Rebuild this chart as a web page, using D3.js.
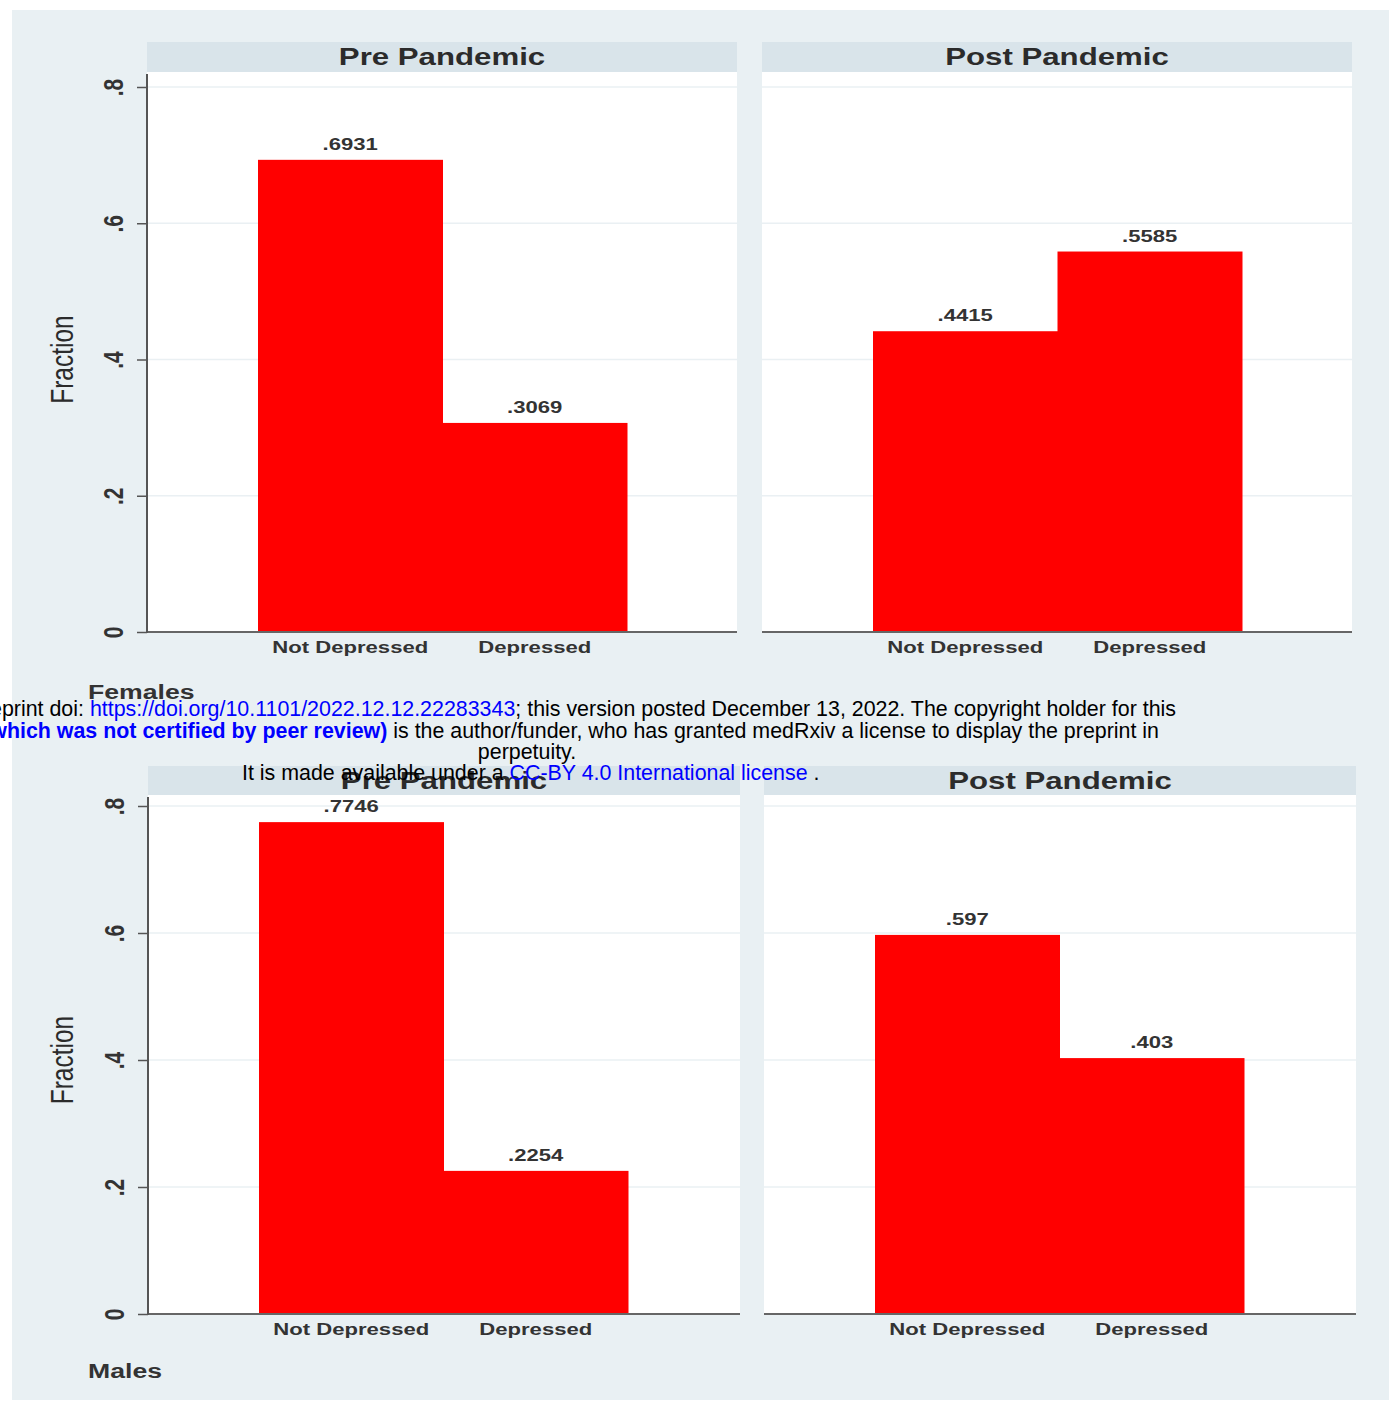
<!DOCTYPE html>
<html>
<head>
<meta charset="utf-8">
<script src="https://cdn.jsdelivr.net/npm/d3@7"></script>
<style>
  html, body { margin: 0; padding: 0; background: #ffffff; }
  svg { display: block; }
</style>
</head>
<body>
<svg id="chart" width="1389" height="1402"></svg>
<script>
// ---------- data ----------
const groups = ["Females", "Males"];
const periods = ["Pre Pandemic", "Post Pandemic"];
const categories = ["Not Depressed", "Depressed"];
const femalesPre = [0.6931, 0.3069];
const femalesPost = [0.4415, 0.5585];
const malesPre = [0.7746, 0.2254];
const malesPost = [0.597, 0.403];
const yTickValues = [0, 0.2, 0.4, 0.6, 0.8];
const yTickLabels = ["0", ".2", ".4", ".6", ".8"];
const yAxisTitle = "Fraction";
const watermark1a = "medRxiv preprint doi: ";
const watermark1b = "https://doi.org/10.1101/2022.12.12.22283343";
const watermark1c = "; this version posted December 13, 2022. The copyright holder for this";
const watermark2a = "preprint ";
const watermark2b = "(which was not certified by peer review)";
const watermark2c = " is the author/funder, who has granted medRxiv a license to display the preprint in";
const watermark3 = "perpetuity.";
const watermark4a = "It is made available under a ";
const watermark4b = "CC-BY 4.0 International license";
const watermark4c = " .";

const groupValues = { "Females": [femalesPre, femalesPost], "Males": [malesPre, malesPost] };

// ---------- layout ----------
const SX = 1.3; // horizontal stretch of the source image text
const FONT = "'Liberation Sans', Arial, Helvetica, sans-serif";
const figures = [
  { group: "Females", headerTop: 42, plotTop: 72, zeroY: 632, topY: 87,
    panels: [[147, 737], [762, 1352]], axisTop: 74, noteY: 699 },
  { group: "Males", headerTop: 766, plotTop: 795, zeroY: 1314, topY: 806,
    panels: [[148, 740], [764, 1356]], axisTop: 797, noteY: 1378 }
];

const svg = d3.select("#chart");
svg.append("rect").attr("x", 12).attr("y", 10).attr("width", 1377).attr("height", 1390)
  .attr("fill", "#e9f0f3");

const fmt = v => String(v).replace(/^0(?=\.)/, "");

figures.forEach(fig => {
  const g = svg.append("g");
  const y = d3.scaleLinear().domain([0, 0.8]).range([fig.zeroY, fig.topY]);
  const vals = groupValues[fig.group];

  fig.panels.forEach((px, pi) => {
    const [x0, x1] = px;
    const pg = g.append("g");
    // header strip
    pg.append("rect").attr("x", x0).attr("y", fig.headerTop)
      .attr("width", x1 - x0).attr("height", fig.plotTop - fig.headerTop).attr("fill", "#d9e4ea");
    pg.append("text")
      .attr("transform", `translate(${(x0 + x1) / 2},${(fig.headerTop + fig.plotTop) / 2 + 8}) scale(${SX},1)`)
      .attr("text-anchor", "middle").attr("font-family", FONT).attr("font-weight", "bold")
      .attr("font-size", 24).attr("fill", "#2b2b2b").text(periods[pi]);
    // plot area
    pg.append("rect").attr("x", x0).attr("y", fig.plotTop)
      .attr("width", x1 - x0).attr("height", fig.zeroY - fig.plotTop).attr("fill", "#ffffff");
    // gridlines
    pg.selectAll("line.grid").data(yTickValues.filter(d => d > 0)).join("line")
      .attr("class", "grid").attr("x1", x0).attr("x2", x1)
      .attr("y1", d => y(d)).attr("y2", d => y(d))
      .attr("stroke", "#eaf0f3").attr("stroke-width", 1.5);

    const x = d3.scaleBand().domain(categories).range([x0 + 111, x0 + 480]).paddingInner(0).paddingOuter(0);
    const data = categories.map((c, i) => ({ c, v: vals[pi][i] }));
    pg.selectAll("rect.bar").data(data).join("rect").attr("class", "bar")
      .attr("x", d => x(d.c)).attr("width", x.bandwidth() + 0.5)
      .attr("y", d => y(d.v)).attr("height", d => y(0) - y(d.v))
      .attr("fill", "#ff0000");
    pg.selectAll("text.val").data(data).join("text").attr("class", "val")
      .attr("transform", d => `translate(${x(d.c) + x.bandwidth() / 2},${y(d.v) - 10}) scale(${SX},1)`)
      .attr("text-anchor", "middle").attr("font-family", FONT).attr("font-weight", "bold")
      .attr("font-size", 17).attr("fill", "#333").text(d => fmt(d.v));

    // x axis
    const xAxis = d3.axisBottom(x).tickSize(0).tickPadding(0);
    const xa = pg.append("g").attr("transform", `translate(0,${fig.zeroY})`).call(xAxis);
    xa.select(".domain").remove();
    xa.selectAll("text")
      .attr("y", null).attr("dy", null)
      .attr("transform", `translate(0,21) scale(${SX},1)`)
      .attr("font-family", FONT).attr("font-weight", "bold").attr("font-size", 17)
      .attr("fill", "#333");
    pg.append("line").attr("x1", x0).attr("x2", x1).attr("y1", fig.zeroY).attr("y2", fig.zeroY)
      .attr("stroke", "#666").attr("stroke-width", 2);

    if (pi === 0) {
      const yAxis = d3.axisLeft(y).tickValues(yTickValues)
        .tickFormat((d, i) => yTickLabels[i]).tickSize(10).tickSizeOuter(0);
      const ya = pg.append("g").attr("transform", `translate(${x0},0)`).call(yAxis);
      ya.select(".domain").remove();
      ya.selectAll(".tick line").attr("stroke", "#555").attr("stroke-width", 1.5);
      ya.selectAll(".tick text")
        .attr("x", null).attr("dy", "0.35em")
        .attr("text-anchor", "middle")
        .attr("transform", `translate(-34,0) scale(${SX},1) rotate(-90)`)
        .attr("font-family", FONT).attr("font-weight", "bold").attr("font-size", 21).attr("fill", "#333");
      pg.append("line").attr("x1", x0).attr("x2", x0).attr("y1", fig.axisTop).attr("y2", fig.zeroY + 1)
        .attr("stroke", "#555").attr("stroke-width", 2);
      pg.append("text")
        .attr("transform", `translate(62,${(fig.topY + fig.zeroY) / 2}) scale(${SX},1) rotate(-90)`)
        .attr("dy", "0.35em").attr("text-anchor", "middle")
        .attr("font-family", FONT).attr("font-size", 24.5).attr("fill", "#2b2b2b").text(yAxisTitle);
    }
  });

  g.append("text")
    .attr("transform", `translate(88,${fig.noteY}) scale(${SX},1)`)
    .attr("font-family", FONT).attr("font-weight", "bold").attr("font-size", 20.5)
    .attr("fill", "#333").text(fig.group);
});

// ---------- medRxiv watermark ----------
const wm = svg.append("g").attr("font-family", FONT).attr("font-size", 21.4).attr("fill", "#000");
const l1 = wm.append("text").attr("x", 1176).attr("y", 716).attr("text-anchor", "end");
l1.append("tspan").text(watermark1a);
l1.append("tspan").attr("fill", "#0000ff").text(watermark1b);
l1.append("tspan").text(watermark1c);
const l2 = wm.append("text").attr("x", 1159).attr("y", 738).attr("text-anchor", "end");
l2.append("tspan").text(watermark2a);
l2.append("tspan").attr("fill", "#0000ff").attr("font-weight", "bold").text(watermark2b);
l2.append("tspan").text(watermark2c);
wm.append("text").attr("x", 527).attr("y", 759).attr("text-anchor", "middle").text(watermark3);
const l4 = wm.append("text").attr("x", 242).attr("y", 780).attr("text-anchor", "start");
l4.append("tspan").text(watermark4a);
l4.append("tspan").attr("fill", "#0000ff").text(watermark4b);
l4.append("tspan").text(watermark4c);
</script>
</body>
</html>
